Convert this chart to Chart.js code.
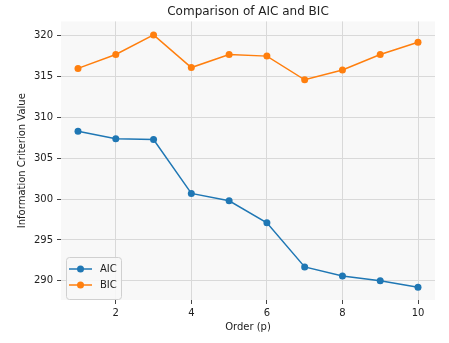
<!DOCTYPE html>
<html>
<head>
<meta charset="utf-8">
<script src="https://cdn.jsdelivr.net/npm/chart.js@4/dist/chart.umd.min.js"></script>
<style>
  html, body { margin: 0; padding: 0; background: #fff; }
  #wrap { width: 449px; height: 343px; }
</style>
</head>
<body>
<div id="wrap"><canvas id="myChart" width="449" height="343"></canvas></div>
<script>
// data
const orders = [1, 2, 3, 4, 5, 6, 7, 8, 9, 10];
const aicValues = [308.3, 307.4, 307.3, 300.7, 299.8, 297.1, 291.7, 290.6, 290.0, 289.2];
const bicValues = [316.0, 317.7, 320.1, 316.1, 317.7, 317.5, 314.6, 315.8, 317.7, 319.2];
const xTicks = [2, 4, 6, 8, 10];
const yTicks = [290, 295, 300, 305, 310, 315, 320];

const FONT = "'DejaVu Sans', sans-serif";
const BLUE = '#1f77b4';
const ORANGE = '#ff7f0e';

// grey background behind the plot area
const plotBg = {
    id: 'plotBg',
    beforeDraw(chart) {
        const { ctx, chartArea: a } = chart;
        ctx.save();
        ctx.fillStyle = '#f8f8f8';
        ctx.fillRect(a.left, a.top, a.right - a.left, a.bottom - a.top);
        ctx.restore();
    }
};

// legend drawn inside the plot, lower left
const innerLegend = {
    id: 'innerLegend',
    afterDraw(chart) {
        const { ctx, chartArea: a } = chart;
        const x = a.left + 5, w = 55, h = 42;
        const y = a.bottom - h - 1;
        ctx.save();
        ctx.fillStyle = 'rgba(248,248,248,0.85)';
        ctx.strokeStyle = '#d0d0d0';
        ctx.lineWidth = 1;
        ctx.beginPath();
        ctx.roundRect(x + 0.5, y + 0.5, w, h, 3);
        ctx.fill();
        ctx.stroke();
        ctx.font = '10px ' + FONT;
        ctx.textBaseline = 'middle';
        chart.data.datasets.forEach((ds, i) => {
            const cy = y + 12 + i * 16;
            ctx.strokeStyle = ds.borderColor;
            ctx.lineWidth = 1.5;
            ctx.beginPath();
            ctx.moveTo(x + 3, cy);
            ctx.lineTo(x + 26, cy);
            ctx.stroke();
            ctx.fillStyle = ds.borderColor;
            ctx.beginPath();
            ctx.arc(x + 14.5, cy, 3.5, 0, Math.PI * 2);
            ctx.fill();
            ctx.fillStyle = '#222';
            ctx.fillText(ds.label, x + 34, cy + 0.5);
        });
        ctx.restore();
    }
};

const ctx = document.getElementById('myChart').getContext('2d');
const myChart = new Chart(ctx, {
    type: 'line',
    data: {
        datasets: [
            {
                label: 'AIC',
                data: orders.map((o, i) => ({ x: o, y: aicValues[i] })),
                borderColor: BLUE,
                backgroundColor: BLUE,
                borderWidth: 1.5,
                pointRadius: 3.5,
                pointBorderWidth: 0,
                tension: 0
            },
            {
                label: 'BIC',
                data: orders.map((o, i) => ({ x: o, y: bicValues[i] })),
                borderColor: ORANGE,
                backgroundColor: ORANGE,
                borderWidth: 1.5,
                pointRadius: 3.5,
                pointBorderWidth: 0,
                tension: 0
            }
        ]
    },
    options: {
        responsive: false,
        animation: false,
        layout: { padding: { left: 16, right: 14, top: 0, bottom: 10 } },
        scales: {
            x: {
                type: 'linear',
                min: 0.55,
                max: 10.45,
                afterBuildTicks: axis => { axis.ticks = xTicks.map(v => ({ value: v })); },
                afterFit: axis => { axis.height = 33; },
                border: { display: false },
                grid: { color: '#d9d9d9', tickColor: '#444', tickLength: 4, lineWidth: 1 },
                ticks: { color: '#222', font: { family: FONT, size: 10 }, padding: 3, maxRotation: 0 },
                title: { display: true, text: 'Order (p)', color: '#222', font: { family: FONT, size: 10 }, padding: { top: 0, bottom: 0 } }
            },
            y: {
                type: 'linear',
                min: 287.65,
                max: 321.75,
                afterBuildTicks: axis => { axis.ticks = yTicks.map(v => ({ value: v })); },
                afterFit: axis => { axis.width = 45; },
                border: { display: false },
                grid: { color: '#d9d9d9', tickColor: '#444', tickLength: 4, lineWidth: 1 },
                ticks: { color: '#222', font: { family: FONT, size: 10 }, padding: 4 },
                title: { display: true, text: 'Information Criterion Value', color: '#222', font: { family: FONT, size: 10 }, padding: { top: 0, bottom: 0 } }
            }
        },
        plugins: {
            legend: { display: false },
            tooltip: { enabled: false },
            title: {
                display: true,
                fullSize: false, // centre over the plot area
                text: 'Comparison of AIC and BIC',
                color: '#222',
                font: { family: FONT, size: 12, weight: 'normal' },
                padding: { top: 5, bottom: 2 }
            }
        }
    },
    plugins: [plotBg, innerLegend]
});
</script>
</body>
</html>
